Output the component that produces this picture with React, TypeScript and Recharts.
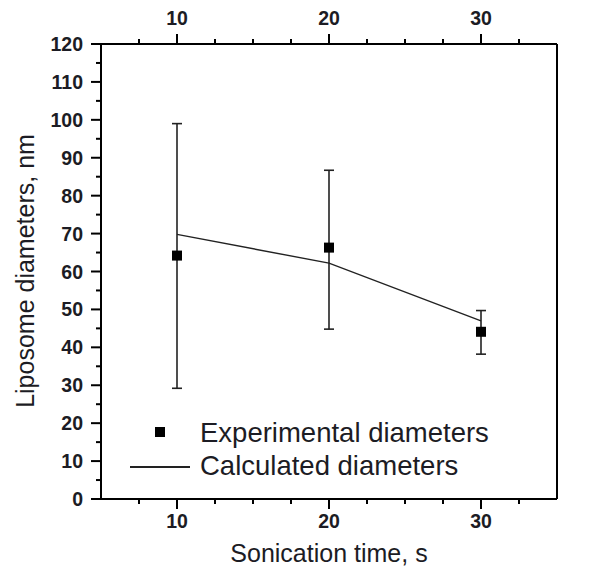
import React from 'react';
import { ComposedChart, Scatter, Line, XAxis, YAxis, ErrorBar } from 'recharts';

// values
const sonicationTimes = [10, 20, 30];
const experimentalDiameters = [64.2, 66.3, 44.1];
const errorLow = [29.2, 44.8, 38.2];
const errorHigh = [99.0, 86.7, 49.7];
const calculatedDiameters = [69.8, 62.2, 47.0];

const xTicks = [7.5, 10, 12.5, 15, 17.5, 20, 22.5, 25, 27.5, 30, 32.5];
const yTicks = [0, 5, 10, 15, 20, 25, 30, 35, 40, 45, 50, 55, 60, 65, 70, 75, 80, 85, 90, 95, 100, 105, 110, 115, 120];

const data = sonicationTimes.map((t, i) => ({
  time: t,
  exp: experimentalDiameters[i],
  err: [experimentalDiameters[i] - errorLow[i], errorHigh[i] - experimentalDiameters[i]],
  calc: calculatedDiameters[i],
}));

const FONT = '"Liberation Sans", Arial, Helvetica, sans-serif';
const INK = '#1c1c24';

const XTick = (props: any) => {
  const { x, y, payload, side } = props;
  const major = payload.value % 10 === 0;
  const dir = side === 'top' ? -1 : 1;
  const len = major ? 10 : 5;
  return (
    <g>
      <line x1={x} y1={y} x2={x} y2={y + dir * len} stroke="#000" strokeWidth={2} />
      {major && (
        <text
          x={x}
          y={side === 'top' ? y - 19 : y + 29}
          textAnchor="middle"
          fontFamily={FONT}
          fontWeight="bold"
          fontSize={19.5}
          fill={INK}
        >
          {payload.value}
        </text>
      )}
    </g>
  );
};

const YTick = (props: any) => {
  const { x, y, payload, side } = props;
  const major = payload.value % 10 === 0;
  const dir = side === 'left' ? -1 : 1;
  const len = major ? 10 : 5;
  return (
    <g>
      <line x1={x} y1={y} x2={x + dir * len} y2={y} stroke="#000" strokeWidth={2} />
      {major && (
        <text
          x={side === 'left' ? x - 18 : x + 15}
          y={y + 7}
          textAnchor={side === 'left' ? 'end' : 'start'}
          fontFamily={FONT}
          fontWeight="bold"
          fontSize={19.5}
          fill={INK}
        >
          {payload.value}
        </text>
      )}
    </g>
  );
};

const Square = (props: any) => {
  const { cx, cy } = props;
  return <rect x={cx - 5} y={cy - 5} width={10} height={10} fill="#000" />;
};

export default function App() {
  return (
    <div style={{ position: 'absolute', left: 0, top: 0, width: 608, height: 581, background: '#fff' }}>
      <ComposedChart
        width={608}
        height={581}
        data={data}
        margin={{ top: 14, right: 1, bottom: 52, left: 41 }}
      >
        <XAxis
          xAxisId="bottom"
          dataKey="time"
          type="number"
          domain={[5, 35]}
          ticks={xTicks}
          interval={0}
          height={30}
          tickSize={0}
          tickMargin={0}
          tickLine={false}
          axisLine={{ stroke: '#000', strokeWidth: 2 }}
          tick={(p: any) => <XTick {...p} side="bottom" />}
          label={{
            content: () => (
              <text x={329} y={562} textAnchor="middle" fontFamily={FONT} fontSize={25} fill={INK}>
                Sonication time, s
              </text>
            ),
          }}
        />
        <XAxis
          xAxisId="top"
          orientation="top"
          dataKey="time"
          type="number"
          domain={[5, 35]}
          ticks={xTicks}
          interval={0}
          height={30}
          tickSize={0}
          tickMargin={0}
          tickLine={false}
          axisLine={{ stroke: '#000', strokeWidth: 2 }}
          tick={(p: any) => <XTick {...p} side="top" />}
        />
        <YAxis
          yAxisId="left"
          type="number"
          domain={[0, 120]}
          ticks={yTicks}
          interval={0}
          width={60}
          tickSize={0}
          tickMargin={0}
          tickLine={false}
          axisLine={{ stroke: '#000', strokeWidth: 2 }}
          tick={(p: any) => <YTick {...p} side="left" />}
          label={{
            content: () => (
              <text
                x={34}
                y={271}
                transform="rotate(-90, 34, 271)"
                textAnchor="middle"
                fontFamily={FONT}
                fontSize={25}
                fill={INK}
              >
                Liposome diameters, nm
              </text>
            ),
          }}
        />
        <YAxis
          yAxisId="right"
          orientation="right"
          type="number"
          domain={[0, 120]}
          ticks={yTicks}
          interval={0}
          width={50}
          tickSize={0}
          tickMargin={0}
          tickLine={false}
          axisLine={{ stroke: '#000', strokeWidth: 2 }}
          tick={(p: any) => <YTick {...p} side="right" />}
        />
        <Line
          xAxisId="bottom"
          yAxisId="left"
          type="linear"
          dataKey="calc"
          stroke="#222"
          strokeWidth={1.4}
          dot={false}
          activeDot={false}
          isAnimationActive={false}
        />
        <Scatter
          xAxisId="bottom"
          yAxisId="left"
          dataKey="exp"
          shape={<Square />}
          isAnimationActive={false}
        >
          <ErrorBar dataKey="err" direction="y" width={5} stroke="#222" strokeWidth={1.6} />
        </Scatter>
      </ComposedChart>
      <div style={{ position: 'absolute', left: 155, top: 427, width: 10, height: 10, background: '#000' }} />
      <div style={{ position: 'absolute', left: 130, top: 466, width: 60, height: 2, background: '#222' }} />
      <div
        style={{
          position: 'absolute',
          left: 200,
          top: 416,
          fontFamily: FONT,
          fontSize: 27.5,
          lineHeight: '33px',
          color: INK,
          whiteSpace: 'nowrap',
        }}
      >
        <div>Experimental diameters</div>
        <div>Calculated diameters</div>
      </div>
    </div>
  );
}
